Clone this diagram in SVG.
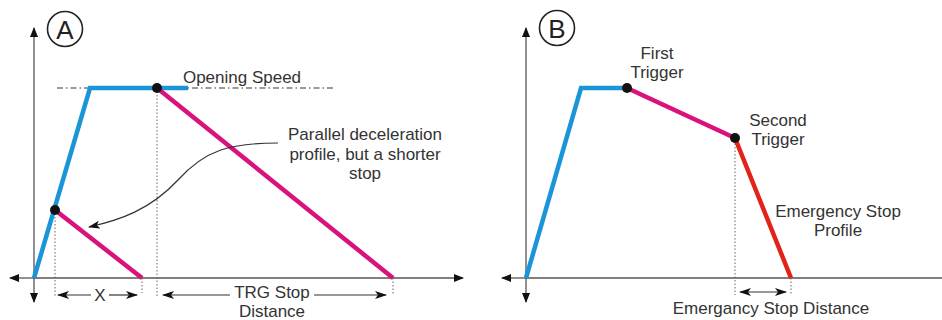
<svg xmlns="http://www.w3.org/2000/svg" width="942" height="320" viewBox="0 0 942 320">
<style>
.ax{stroke:#555;stroke-width:1.3;fill:none}
.dot{stroke:#666;stroke-width:1;stroke-dasharray:1.5,2;fill:none}
.dd{stroke:#333;stroke-width:1.2;fill:none}
.blue{stroke:#1a96d8;stroke-width:4.5;fill:none;stroke-linejoin:miter}
.mag{stroke:#d8137c;stroke-width:4.5;fill:none}
.red{stroke:#e2231a;stroke-width:4.5;fill:none}
.t{font-family:"Liberation Sans",Arial,sans-serif;font-size:17px;fill:#333;text-anchor:middle}
.big{font-family:"Liberation Sans",Arial,sans-serif;font-size:26px;fill:#222;text-anchor:middle}
.pt{fill:#111}
</style>
<defs>
<marker id="ah" viewBox="0 0 10 8" refX="9" refY="4" markerWidth="10" markerHeight="8" markerUnits="userSpaceOnUse" orient="auto-start-reverse">
<path d="M0,0 L10,4 L0,8 Z" fill="#111"/>
</marker>
<marker id="ah2" viewBox="0 0 12 8" refX="11" refY="4" markerWidth="12" markerHeight="8" markerUnits="userSpaceOnUse" orient="auto-start-reverse">
<path d="M0,0 L12,4 L0,8 L3,4 Z" fill="#111"/>
</marker>
</defs>
<g id="connectors">
<line class="ax" x1="34" y1="278" x2="34" y2="28" marker-end="url(#ah)"/>
<line class="ax" x1="34" y1="278" x2="34" y2="302" marker-end="url(#ah)"/>
<line class="ax" x1="34" y1="278" x2="10" y2="278" marker-end="url(#ah)"/>
<line class="ax" x1="34" y1="278" x2="463" y2="278" marker-end="url(#ah)"/>
<line stroke="#333" stroke-width="1" stroke-dasharray="6,3,1.5,3" x1="57" y1="88" x2="336" y2="88"/>
<line class="dot" x1="157" y1="88" x2="157" y2="296"/>
<line class="dot" x1="55" y1="210" x2="55" y2="297"/>
<line class="dot" x1="142" y1="278" x2="142" y2="293"/>
<line class="dot" x1="393" y1="278" x2="393" y2="295"/>
<polyline class="blue" points="34,278 90,88 188,88"/>
<line class="mag" x1="157" y1="88" x2="393" y2="278"/>
<line class="mag" x1="55" y1="210" x2="142" y2="278"/>
<line class="dd" x1="58" y1="295" x2="91" y2="295" marker-start="url(#ah2)"/>
<line class="dd" x1="109" y1="295" x2="137" y2="295" marker-end="url(#ah2)"/>
<line class="dd" x1="163" y1="295" x2="230" y2="295" marker-start="url(#ah2)"/>
<line class="dd" x1="314" y1="295" x2="386" y2="295" marker-end="url(#ah2)"/>
<path d="M278,143 C230,143 205,150 178,180 C150,210 120,220 89,227" stroke="#333" stroke-width="1.2" fill="none" marker-end="url(#ah2)"/>
<line class="ax" x1="526" y1="278" x2="526" y2="28" marker-end="url(#ah)"/>
<line class="ax" x1="526" y1="278" x2="526" y2="302" marker-end="url(#ah)"/>
<line class="ax" x1="526" y1="278" x2="502" y2="278" marker-end="url(#ah)"/>
<line class="ax" x1="526" y1="278" x2="942" y2="278"/>
<line class="dot" x1="735" y1="140" x2="735" y2="295"/>
<line class="dot" x1="791" y1="278" x2="791" y2="295"/>
<polyline class="blue" points="526,278 581,88 627,88"/>
<line class="mag" x1="627" y1="88" x2="735" y2="138"/>
<line class="red" x1="735" y1="138" x2="791" y2="278"/>
<line class="dd" x1="740" y1="292" x2="786" y2="292" marker-start="url(#ah2)" marker-end="url(#ah2)"/>
</g>
<g id="labelA">
<circle cx="65" cy="29" r="17.5" fill="none" stroke="#222" stroke-width="1.6"/>
<text class="big" x="65" y="38.5">A</text>
</g>
<g id="labelB">
<circle cx="557" cy="28" r="17.5" fill="none" stroke="#222" stroke-width="1.6"/>
<text class="big" x="557" y="37.5">B</text>
</g>
<g id="trigA1"><circle class="pt" cx="157" cy="88" r="5"/></g>
<g id="trigA2"><circle class="pt" cx="55" cy="210" r="5"/></g>
<g id="trigB1"><circle class="pt" cx="627" cy="88" r="5"/></g>
<g id="trigB2"><circle class="pt" cx="735" cy="138" r="5"/></g>
<g id="opening"><text class="t" x="242" y="83">Opening Speed</text></g>
<g id="parallel">
<text class="t" x="365" y="140">Parallel deceleration</text>
<text class="t" x="365" y="160">profile, but a shorter</text>
<text class="t" x="365" y="179">stop</text>
</g>
<g id="xlabel"><text class="t" x="100" y="301">X</text></g>
<g id="trg">
<text class="t" x="272" y="298">TRG Stop</text>
<text class="t" x="272" y="317">Distance</text>
</g>
<g id="first">
<text class="t" x="657" y="59">First</text>
<text class="t" x="657" y="78">Trigger</text>
</g>
<g id="second">
<text class="t" x="778" y="126">Second</text>
<text class="t" x="778" y="145">Trigger</text>
</g>
<g id="emprofile">
<text class="t" x="838" y="217">Emergency Stop</text>
<text class="t" x="838" y="236">Profile</text>
</g>
<g id="emdist"><text class="t" x="771" y="314">Emergancy Stop Distance</text></g>
</svg>
